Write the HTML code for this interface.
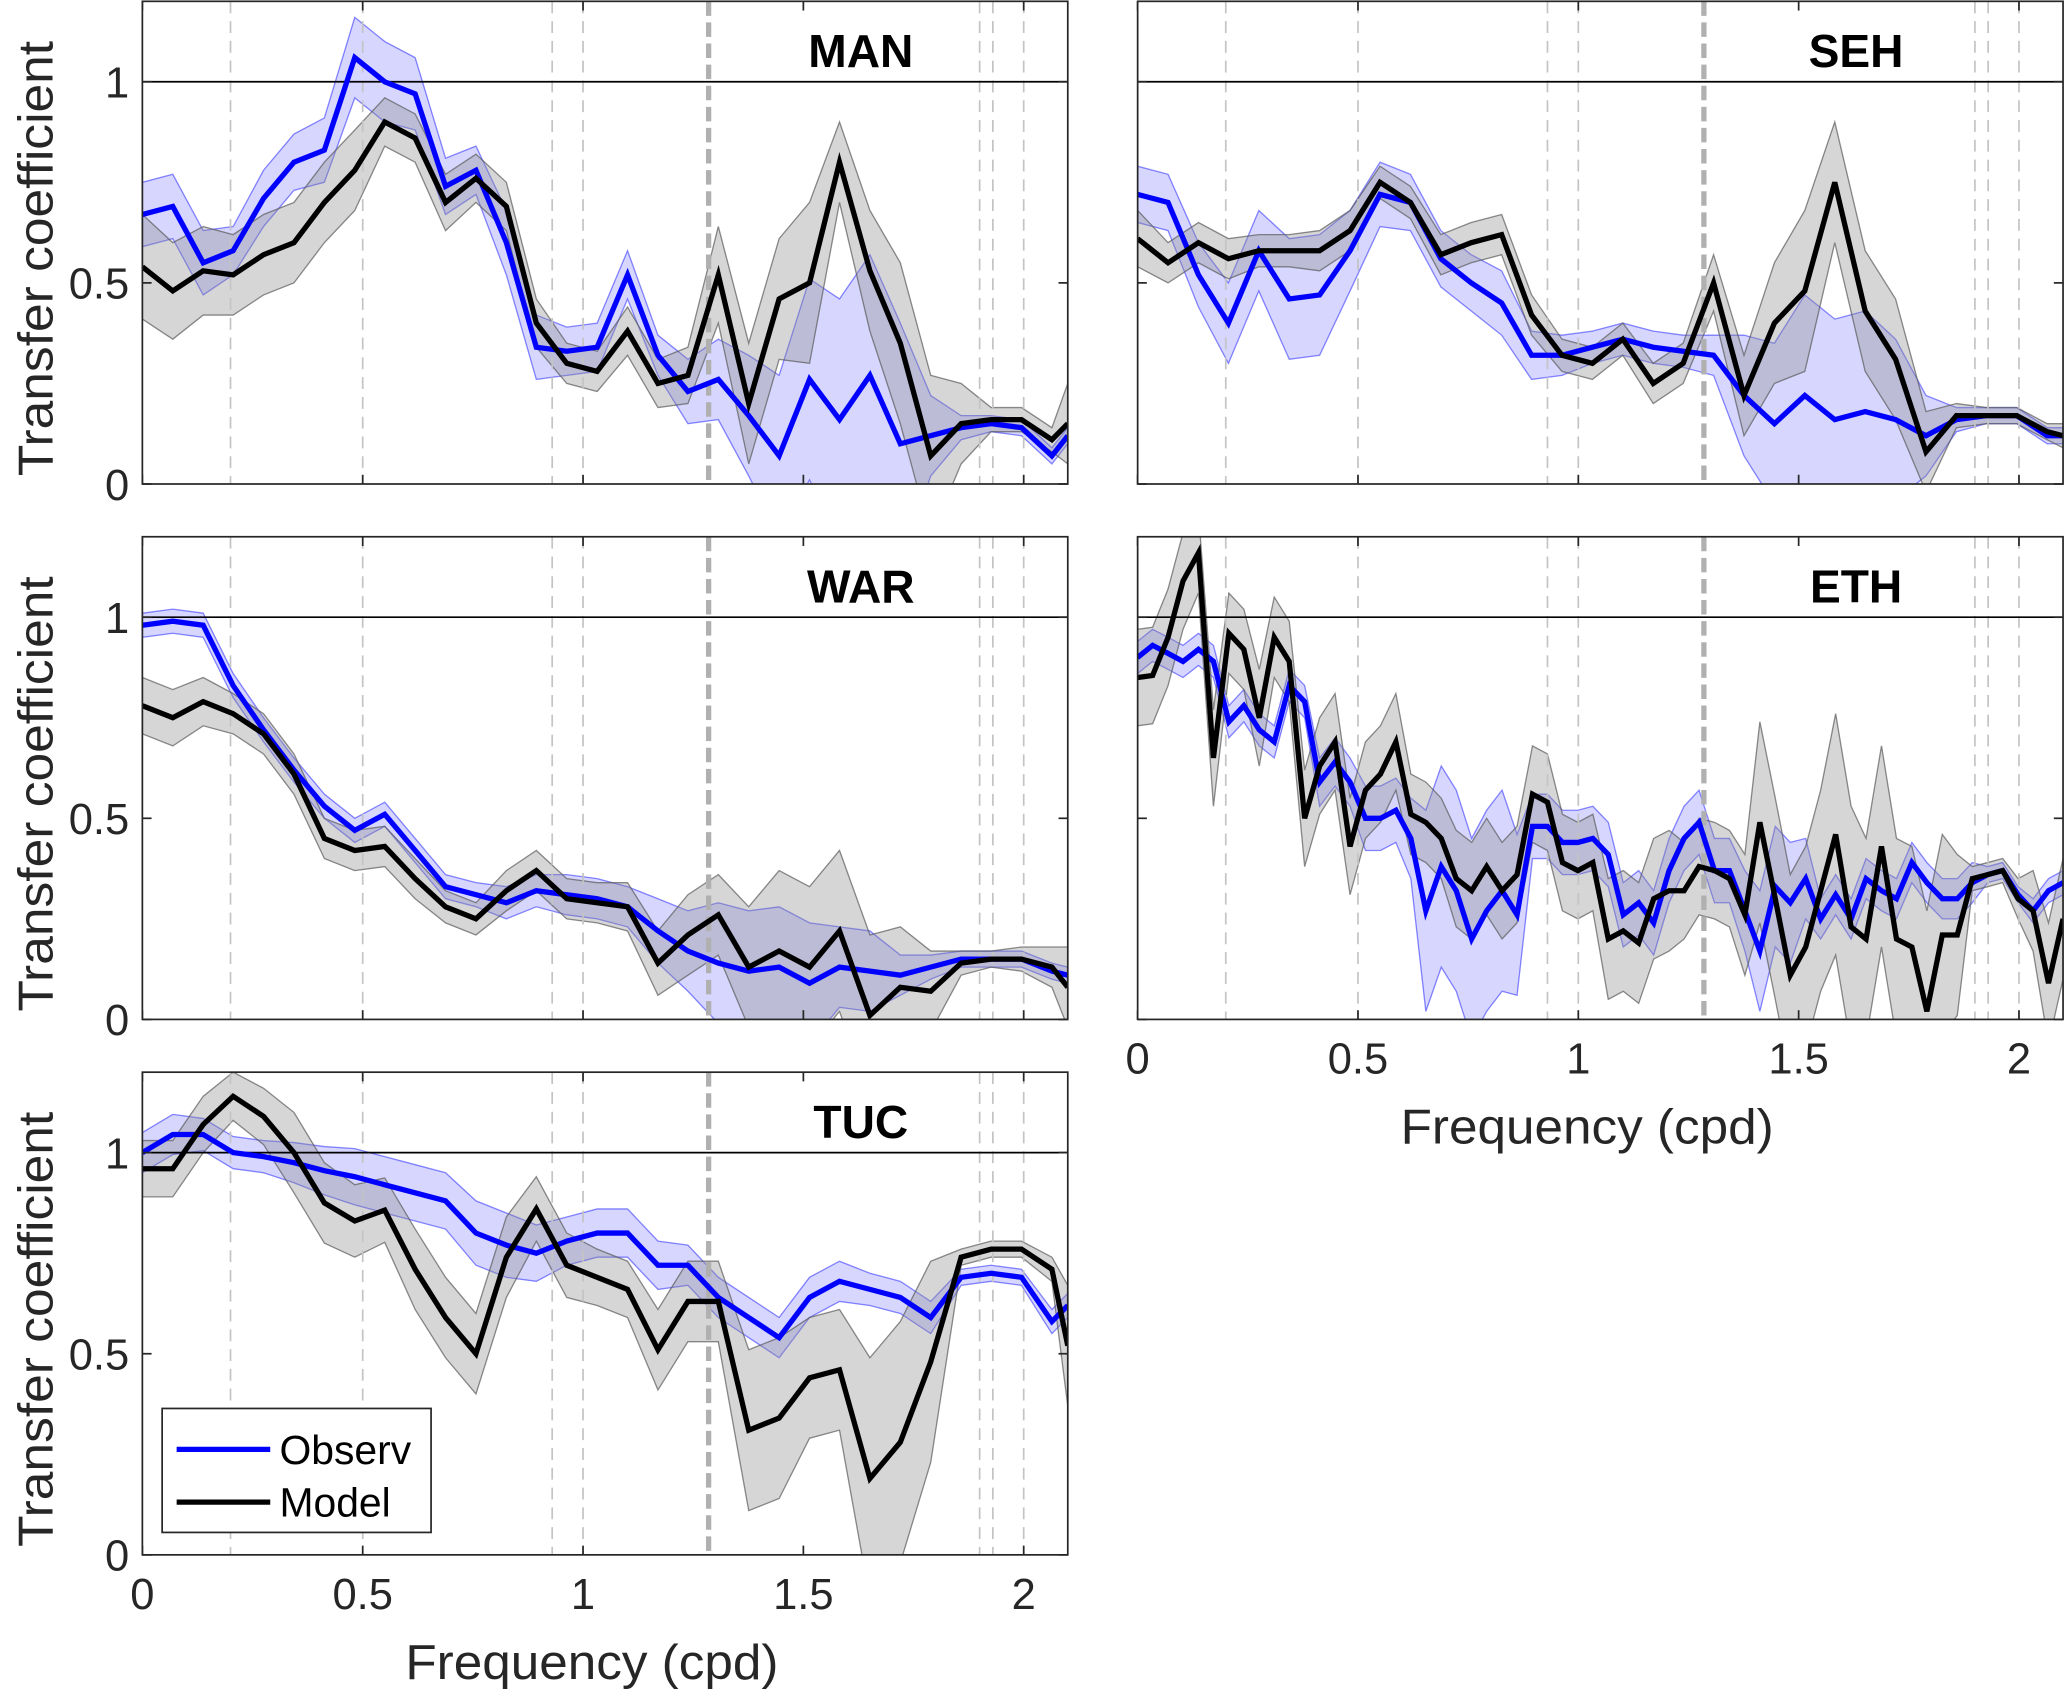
<!DOCTYPE html>
<html><head><meta charset="utf-8"><style>
html,body{margin:0;padding:0;background:#fff;}
svg{display:block;font-family:"Liberation Sans",sans-serif;}
</style></head><body>
<svg id="fig" width="2067" height="1692" viewBox="0 0 1568 1283" preserveAspectRatio="none" xmlns="http://www.w3.org/2000/svg"></svg>
<script>
const F32=[0,0.069,0.138,0.206,0.275,0.344,0.413,0.482,0.55,0.619,0.688,0.757,0.826,0.894,0.963,1.032,1.101,1.17,1.238,1.307,1.376,1.445,1.514,1.582,1.651,1.72,1.789,1.858,1.926,1.995,2.064,2.1];
const F62=[0,0.034,0.069,0.103,0.138,0.172,0.207,0.241,0.276,0.31,0.344,0.379,0.413,0.448,0.482,0.517,0.551,0.586,0.62,0.654,0.689,0.723,0.758,0.792,0.827,0.861,0.896,0.93,0.964,0.999,1.033,1.068,1.102,1.137,1.171,1.206,1.24,1.274,1.309,1.343,1.378,1.412,1.447,1.481,1.516,1.55,1.584,1.619,1.653,1.688,1.722,1.757,1.791,1.826,1.86,1.894,1.929,1.963,1.998,2.032,2.067,2.1];
const manObs=[0.67,0.69,0.55,0.58,0.71,0.80,0.83,1.06,1.00,0.97,0.74,0.78,0.60,0.34,0.33,0.34,0.52,0.32,0.23,0.26,0.17,0.07,0.26,0.16,0.27,0.10,0.12,0.14,0.15,0.14,0.07,0.12];
const manObsErr=[0.08,0.08,0.08,0.06,0.07,0.07,0.08,0.10,0.10,0.09,0.07,0.06,0.08,0.08,0.06,0.06,0.06,0.05,0.08,0.1,0.15,0.2,0.25,0.3,0.3,0.3,0.1,0.03,0.02,0.02,0.02,0.02];
const manMod=[0.54,0.48,0.53,0.52,0.57,0.60,0.70,0.78,0.90,0.86,0.70,0.76,0.69,0.40,0.30,0.28,0.38,0.25,0.27,0.52,0.20,0.46,0.50,0.80,0.53,0.35,0.07,0.15,0.16,0.16,0.11,0.15];
const manModErr=[0.13,0.12,0.11,0.1,0.1,0.1,0.1,0.1,0.06,0.06,0.07,0.06,0.06,0.06,0.05,0.05,0.06,0.06,0.07,0.12,0.15,0.15,0.2,0.1,0.15,0.2,0.2,0.1,0.03,0.03,0.03,0.1];
const sehObs=[0.72,0.70,0.52,0.40,0.58,0.46,0.47,0.58,0.72,0.70,0.56,0.50,0.45,0.32,0.32,0.34,0.36,0.34,0.33,0.32,0.22,0.15,0.22,0.16,0.18,0.16,0.12,0.16,0.17,0.17,0.12,0.12];
const sehObsErr=[0.07,0.07,0.08,0.1,0.1,0.15,0.15,0.1,0.08,0.07,0.07,0.07,0.08,0.06,0.05,0.04,0.04,0.04,0.04,0.05,0.15,0.2,0.25,0.25,0.25,0.2,0.1,0.03,0.02,0.02,0.02,0.02];
const sehMod=[0.61,0.55,0.60,0.56,0.58,0.58,0.58,0.63,0.75,0.70,0.57,0.60,0.62,0.42,0.32,0.30,0.36,0.25,0.30,0.50,0.22,0.40,0.48,0.75,0.43,0.31,0.08,0.17,0.17,0.17,0.13,0.12];
const sehModErr=[0.07,0.05,0.05,0.05,0.04,0.04,0.05,0.05,0.04,0.04,0.05,0.05,0.05,0.05,0.04,0.04,0.04,0.05,0.05,0.07,0.1,0.15,0.2,0.15,0.15,0.15,0.1,0.03,0.02,0.02,0.02,0.03];
const warObs=[0.98,0.99,0.98,0.83,0.72,0.62,0.53,0.47,0.51,0.42,0.33,0.31,0.29,0.32,0.31,0.30,0.28,0.22,0.17,0.14,0.12,0.13,0.09,0.13,0.12,0.11,0.13,0.15,0.15,0.15,0.12,0.11];
const warObsErr=[0.03,0.03,0.03,0.03,0.03,0.03,0.03,0.03,0.03,0.03,0.03,0.03,0.04,0.04,0.05,0.05,0.05,0.08,0.1,0.15,0.15,0.15,0.15,0.1,0.1,0.05,0.03,0.02,0.02,0.02,0.02,0.02];
const warMod=[0.78,0.75,0.79,0.76,0.71,0.61,0.45,0.42,0.43,0.35,0.28,0.25,0.32,0.37,0.30,0.29,0.28,0.14,0.21,0.26,0.13,0.17,0.13,0.22,0.01,0.08,0.07,0.14,0.15,0.15,0.13,0.08];
const warModErr=[0.07,0.07,0.06,0.05,0.05,0.05,0.05,0.05,0.05,0.05,0.04,0.04,0.05,0.05,0.05,0.05,0.06,0.08,0.1,0.1,0.15,0.2,0.2,0.2,0.2,0.15,0.1,0.03,0.02,0.03,0.05,0.1];
const ethObs=[0.90,0.93,0.91,0.89,0.92,0.89,0.74,0.78,0.72,0.69,0.83,0.79,0.59,0.64,0.59,0.50,0.50,0.52,0.45,0.27,0.38,0.32,0.20,0.27,0.32,0.26,0.48,0.48,0.44,0.44,0.45,0.41,0.26,0.29,0.24,0.37,0.45,0.49,0.37,0.37,0.27,0.17,0.33,0.29,0.35,0.25,0.31,0.25,0.35,0.32,0.30,0.39,0.34,0.30,0.30,0.34,0.36,0.37,0.31,0.27,0.32,0.34];
const ethObsErr=[0.04,0.04,0.04,0.04,0.04,0.04,0.04,0.04,0.04,0.04,0.04,0.04,0.06,0.06,0.06,0.08,0.08,0.08,0.1,0.25,0.25,0.25,0.25,0.25,0.25,0.2,0.08,0.08,0.08,0.08,0.08,0.08,0.08,0.08,0.08,0.08,0.08,0.08,0.08,0.08,0.1,0.15,0.15,0.15,0.1,0.05,0.05,0.05,0.05,0.05,0.05,0.05,0.05,0.05,0.05,0.05,0.02,0.02,0.02,0.03,0.03,0.03];
const ethMod=[0.85,0.855,0.95,1.09,1.16,0.65,0.96,0.92,0.75,0.95,0.89,0.50,0.63,0.69,0.43,0.57,0.61,0.69,0.51,0.49,0.45,0.35,0.32,0.38,0.32,0.36,0.56,0.54,0.39,0.37,0.39,0.20,0.22,0.19,0.30,0.32,0.32,0.38,0.37,0.35,0.26,0.49,0.30,0.11,0.18,0.32,0.46,0.23,0.20,0.43,0.20,0.18,0.02,0.21,0.21,0.35,0.36,0.37,0.30,0.27,0.09,0.25];
const ethModErr=[0.12,0.12,0.12,0.12,0.1,0.12,0.1,0.1,0.12,0.1,0.1,0.12,0.12,0.12,0.12,0.12,0.12,0.12,0.1,0.1,0.1,0.12,0.12,0.12,0.12,0.12,0.12,0.12,0.12,0.12,0.12,0.15,0.15,0.15,0.15,0.15,0.12,0.12,0.12,0.12,0.15,0.25,0.25,0.25,0.25,0.25,0.3,0.3,0.25,0.25,0.25,0.25,0.25,0.25,0.2,0.03,0.03,0.03,0.05,0.1,0.15,0.15];
const tucObs=[1.0,1.045,1.045,1.0,0.99,0.975,0.955,0.94,0.92,0.90,0.88,0.80,0.77,0.75,0.78,0.80,0.80,0.72,0.72,0.64,0.59,0.54,0.64,0.68,0.66,0.64,0.59,0.69,0.70,0.69,0.58,0.62];
const tucObsErr=[0.05,0.05,0.04,0.04,0.04,0.05,0.06,0.07,0.07,0.07,0.07,0.08,0.08,0.07,0.06,0.06,0.06,0.06,0.05,0.05,0.05,0.05,0.05,0.05,0.04,0.04,0.04,0.02,0.02,0.02,0.03,0.03];
const tucMod=[0.96,0.96,1.07,1.14,1.09,1.0,0.875,0.83,0.857,0.71,0.59,0.50,0.74,0.86,0.72,0.69,0.66,0.51,0.63,0.63,0.31,0.34,0.44,0.46,0.19,0.28,0.48,0.74,0.76,0.76,0.71,0.52];
const tucModErr=[0.07,0.07,0.07,0.06,0.07,0.1,0.1,0.09,0.08,0.1,0.1,0.1,0.1,0.08,0.08,0.07,0.07,0.1,0.1,0.1,0.2,0.2,0.15,0.15,0.3,0.3,0.25,0.02,0.02,0.02,0.03,0.15];
const refFreqs=[0.2,0.5,0.93,1.0,1.9,1.93,2.0];
const cutoffFreq=1.285;
const yTicks=[0,0.5,1];
const xTicks=[0,0.5,1,1.5,2];

const NS="http://www.w3.org/2000/svg";
const svg=document.getElementById('fig');
function mk(tag,attrs,parent){const e=document.createElementNS(NS,tag);for(const k in attrs)e.setAttribute(k,attrs[k]);(parent||svg).appendChild(e);return e;}

const panels=[
 {id:'man',title:'MAN',x0:108,x1:810,top:1,F:F32,obs:manObs,oe:manObsErr,mod:manMod,me:manModErr,yl:true,xl:false},
 {id:'seh',title:'SEH',x0:863,x1:1565,top:1,F:F32,obs:sehObs,oe:sehObsErr,mod:sehMod,me:sehModErr,yl:false,xl:false},
 {id:'war',title:'WAR',x0:108,x1:810,top:407,F:F32,obs:warObs,oe:warObsErr,mod:warMod,me:warModErr,yl:true,xl:false},
 {id:'eth',title:'ETH',x0:863,x1:1565,top:407,F:F62,obs:ethObs,oe:ethObsErr,mod:ethMod,me:ethModErr,yl:false,xl:true},
 {id:'tuc',title:'TUC',x0:108,x1:810,top:813,F:F32,obs:tucObs,oe:tucObsErr,mod:tucMod,me:tucModErr,yl:true,xl:true}
];
const H=366;
panels.forEach(p=>{
  const sx=v=>p.x0+(v/2.1)*(p.x1-p.x0);
  const sy=v=>p.top+H-(v/1.2)*H;
  const g=mk('g',{});
  
  
  const cp=mk('clipPath',{id:'clip-'+p.id},g);
  mk('rect',{x:p.x0,y:p.top,width:p.x1-p.x0,height:H},cp);
  const inner=mk('g',{'clip-path':'url(#clip-'+p.id+')'},g);
  function band(vals,err,fill,stroke,name){
    let pts=p.F.map((f,i)=>sx(f)+','+sy(vals[i]+err[i]));
    for(let i=vals.length-1;i>=0;i--)pts.push(sx(p.F[i])+','+sy(vals[i]-err[i]));
    const e=mk('polygon',{points:pts.join(' '),fill:fill,stroke:stroke,'stroke-width':1},inner);
    
    
  }
  function line(vals,color,name){
    const e=mk('polyline',{points:p.F.map((f,i)=>sx(f)+','+sy(vals[i])).join(' '),fill:'none',stroke:color,'stroke-width':4,'stroke-linejoin':'miter'},inner);
    
    
  }
  band(p.obs,p.oe,'rgba(0,0,255,0.16)','rgba(0,0,255,0.45)','observ-band-'+p.id);
  band(p.mod,p.me,'rgba(140,140,140,0.36)','rgba(90,90,90,0.7)','model-band-'+p.id);
  refFreqs.forEach(f=>{
    const e=mk('line',{x1:sx(f),x2:sx(f),y1:p.top,y2:p.top+H,stroke:'#c4c4c4','stroke-width':1.3,'stroke-dasharray':'9,6'},inner);
    
    
  });
  const c=mk('line',{x1:sx(cutoffFreq),x2:sx(cutoffFreq),y1:p.top,y2:p.top+H,stroke:'#b0b0b0','stroke-width':4,'stroke-dasharray':'11,5'},inner);
  
  
  const u=mk('line',{x1:p.x0,x2:p.x1,y1:sy(1),y2:sy(1),stroke:'#000','stroke-width':1.3},inner);
  
  
  line(p.obs,'#0000ff','observ-line-'+p.id);
  line(p.mod,'#000000','model-line-'+p.id);
  const fr=mk('rect',{x:p.x0,y:p.top,width:p.x1-p.x0,height:H,fill:'none',stroke:'#262626','stroke-width':1.3},g);
  
  
  yTicks.forEach(t=>{
    mk('line',{x1:p.x0,x2:p.x0+7,y1:sy(t),y2:sy(t),stroke:'#262626','stroke-width':1.3},g);
    mk('line',{x1:p.x1,x2:p.x1-7,y1:sy(t),y2:sy(t),stroke:'#262626','stroke-width':1.3},g);
    if(p.yl){
      const tx=mk('text',{x:p.x0-10,y:sy(t)+12,'text-anchor':'end','font-size':33,fill:'#262626'},g);
      tx.textContent=String(t);
      
      
    }
  });
  xTicks.forEach(t=>{
    mk('line',{x1:sx(t),x2:sx(t),y1:p.top+H,y2:p.top+H-7,stroke:'#262626','stroke-width':1.3},g);
    mk('line',{x1:sx(t),x2:sx(t),y1:p.top,y2:p.top+7,stroke:'#262626','stroke-width':1.3},g);
    if(p.xl){
      const tx=mk('text',{x:sx(t),y:p.top+H+41,'text-anchor':'middle','font-size':33,fill:'#262626'},g);
      tx.textContent=String(t);
      
      
    }
  });
  const ti=mk('text',{x:p.x0+545,y:p.top+50,'text-anchor':'middle','font-size':35,'font-weight':'bold',fill:'#000'},g);
  ti.textContent=p.title;
  
  
  if(p.yl){
    const yl=mk('text',{x:0,y:0,'text-anchor':'middle','font-size':37,'textLength':330,'lengthAdjust':'spacingAndGlyphs',fill:'#262626',transform:'translate(40,'+(p.top+H/2+12)+') rotate(-90)'},g);
    yl.textContent='Transfer coefficient';
    
    
  }
  if(p.xl){
    const xl=mk('text',{x:(p.x0+p.x1)/2-10,y:p.top+H+94,'text-anchor':'middle','font-size':37,'textLength':283,'lengthAdjust':'spacingAndGlyphs',fill:'#262626'},g);
    xl.textContent='Frequency (cpd)';
    
    
  }
});
const lg=mk('g',{});


mk('rect',{x:123,y:1068,width:204,height:94,fill:'#fff',stroke:'#262626','stroke-width':1.3},lg);
const l1=mk('line',{x1:134,x2:205,y1:1099,y2:1099,stroke:'#0000ff','stroke-width':4},lg);


const t1=mk('text',{x:212,y:1110,'font-size':31,fill:'#000'},lg);t1.textContent='Observ';
const l2=mk('line',{x1:134,x2:205,y1:1139,y2:1139,stroke:'#000','stroke-width':4},lg);


const t2=mk('text',{x:212,y:1150,'font-size':31,fill:'#000'},lg);t2.textContent='Model';
</script>
</body></html>
